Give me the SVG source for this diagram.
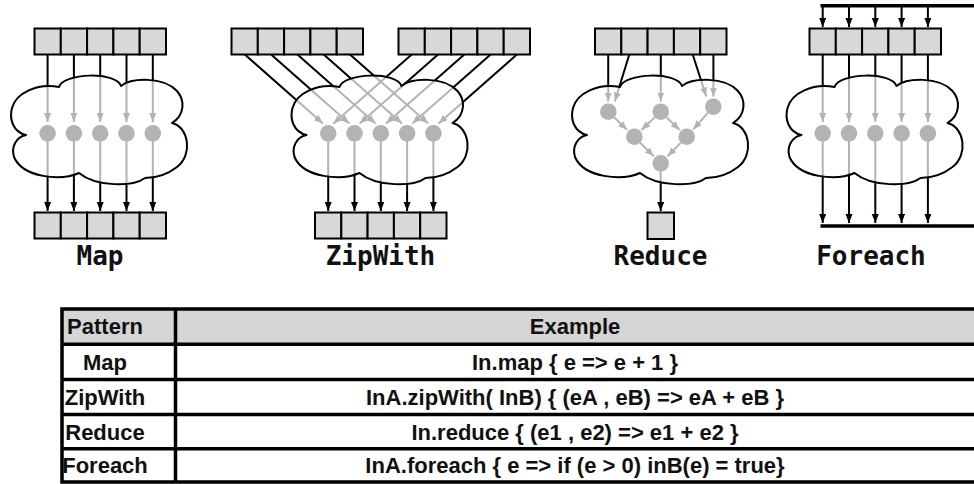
<svg xmlns="http://www.w3.org/2000/svg" xmlns:xlink="http://www.w3.org/1999/xlink" width="974" height="484" viewBox="0 0 974 484">
  <style>
    .cell { fill: #d8d8d8; stroke: #000; stroke-width: 2; }
    .wire { stroke: #000; stroke-width: 2; fill: none; }
    .arr { marker-end: url(#head); }
    .bar { stroke: #000; stroke-width: 3.5; fill: none; }
    .op { fill: #000; }
    .cloud { fill: #fff; fill-opacity: 0.7; stroke: #000; stroke-width: 2; stroke-linejoin: round; }
    .title { font-family: "DejaVu Sans Mono", "Liberation Mono", monospace; font-weight: bold; font-size: 26px; text-anchor: middle; fill: #111; }
    .tcell { font-family: "Liberation Sans", Arial, Helvetica, sans-serif; font-weight: bold; font-size: 22px; text-anchor: middle; fill: #111; }
    .grid { stroke: #000; stroke-width: 3.5; fill: none; }
  </style>
  <defs>
    <marker id="head" markerUnits="userSpaceOnUse" markerWidth="10" markerHeight="8" refX="9" refY="3.5" orient="auto">
      <path d="M0,0 L9,3.5 L0,7 Z" fill="#000"/>
    </marker>
    <!-- cloud outline, 178 x 108, origin at its top-left -->
    <path id="cloud" class="cloud" d="M15,60 C2,57 -2,44 1,33 C5,18 26,8 48,12 C52,-2 105,-4 110,11 C120,3 152,1 166,16 C174,25 174,40 161,48 C178,52 182,80 166,92 C157,99 145,103 134,103 C122,112 85,112 68,98 C50,106 12,103 3,82 C0,72 5,62 15,60 Z"/>
    <g id="row5">
      <rect class="cell" x="0" y="0" width="26.3" height="26"/>
      <rect class="cell" x="26.3" y="0" width="26.3" height="26"/>
      <rect class="cell" x="52.6" y="0" width="26.3" height="26"/>
      <rect class="cell" x="78.9" y="0" width="26.3" height="26"/>
      <rect class="cell" x="105.2" y="0" width="26.3" height="26"/>
    </g>
  </defs>

  <rect width="974" height="484" fill="#fff"/>

  <!-- operation nodes (seen through the cloud) -->
  <g id="map-ops" class="op">
    <circle cx="47.6" cy="133.3" r="8.3"/>
    <circle cx="73.9" cy="133.3" r="8.3"/>
    <circle cx="100.2" cy="133.3" r="8.3"/>
    <circle cx="126.5" cy="133.3" r="8.3"/>
    <circle cx="152.8" cy="133.3" r="8.3"/>
  </g>
  <g id="zipwith-ops" class="op">
    <circle cx="328.2" cy="133.3" r="8.3"/>
    <circle cx="354.5" cy="133.3" r="8.3"/>
    <circle cx="380.8" cy="133.3" r="8.3"/>
    <circle cx="407.1" cy="133.3" r="8.3"/>
    <circle cx="433.4" cy="133.3" r="8.3"/>
  </g>
  <g id="reduce-ops" class="op">
    <circle cx="608.3" cy="111.7" r="8.3"/>
    <circle cx="660.7" cy="111.7" r="8.3"/>
    <circle cx="713.3" cy="106.7" r="8.3"/>
    <circle cx="634.3" cy="136.7" r="8.3"/>
    <circle cx="686.7" cy="136.7" r="8.3"/>
    <circle cx="660.7" cy="163.3" r="8.3"/>
  </g>
  <g id="foreach-ops" class="op">
    <circle cx="822.7" cy="133.3" r="8.3"/>
    <circle cx="849" cy="133.3" r="8.3"/>
    <circle cx="875.3" cy="133.3" r="8.3"/>
    <circle cx="901.6" cy="133.3" r="8.3"/>
    <circle cx="927.9" cy="133.3" r="8.3"/>
  </g>

  <g id="connectors">
    <!-- Map -->
    <g class="wire arr">
      <line x1="47.6" y1="54.5" x2="47.6" y2="122"/>
      <line x1="73.9" y1="54.5" x2="73.9" y2="122"/>
      <line x1="100.2" y1="54.5" x2="100.2" y2="122"/>
      <line x1="126.5" y1="54.5" x2="126.5" y2="122"/>
      <line x1="152.8" y1="54.5" x2="152.8" y2="122"/>
      <line x1="47.6" y1="134" x2="47.6" y2="211"/>
      <line x1="73.9" y1="134" x2="73.9" y2="211"/>
      <line x1="100.2" y1="134" x2="100.2" y2="211"/>
      <line x1="126.5" y1="134" x2="126.5" y2="211"/>
      <line x1="152.8" y1="134" x2="152.8" y2="211"/>
    </g>
    <!-- ZipWith -->
    <g class="wire arr">
      <line x1="244.8" y1="54.5" x2="323" y2="123.5"/>
      <line x1="271.1" y1="54.5" x2="349.3" y2="123.5"/>
      <line x1="297.4" y1="54.5" x2="375.6" y2="123.5"/>
      <line x1="323.7" y1="54.5" x2="401.9" y2="123.5"/>
      <line x1="350" y1="54.5" x2="428.2" y2="123.5"/>
      <line x1="411.7" y1="54.5" x2="333.4" y2="123.5"/>
      <line x1="438" y1="54.5" x2="359.7" y2="123.5"/>
      <line x1="464.3" y1="54.5" x2="386" y2="123.5"/>
      <line x1="490.6" y1="54.5" x2="412.3" y2="123.5"/>
      <line x1="516.9" y1="54.5" x2="438.6" y2="123.5"/>
      <line x1="328.2" y1="134" x2="328.2" y2="211"/>
      <line x1="354.5" y1="134" x2="354.5" y2="211"/>
      <line x1="380.8" y1="134" x2="380.8" y2="211"/>
      <line x1="407.1" y1="134" x2="407.1" y2="211"/>
      <line x1="433.4" y1="134" x2="433.4" y2="211"/>
    </g>
    <!-- Reduce -->
    <g class="wire arr">
      <line x1="608.2" y1="54.5" x2="608.2" y2="101.5"/>
      <line x1="629.3" y1="54.5" x2="614.8" y2="101.5"/>
      <line x1="660.8" y1="54.5" x2="660.8" y2="101.5"/>
      <line x1="692.7" y1="54.5" x2="706.3" y2="96.5"/>
      <line x1="713.4" y1="54.5" x2="713.4" y2="96.5"/>
      <line x1="614.3" y1="117.5" x2="627.2" y2="129.9"/>
      <line x1="654.7" y1="117.4" x2="641.4" y2="130"/>
      <line x1="666.7" y1="117.5" x2="679.6" y2="129.9"/>
      <line x1="707.8" y1="112.9" x2="693.2" y2="129.4"/>
      <line x1="640.1" y1="142.6" x2="653.8" y2="156.3"/>
      <line x1="680.9" y1="142.6" x2="667.6" y2="156.3"/>
      <line x1="660.7" y1="164" x2="660.7" y2="211"/>
    </g>
    <!-- Foreach -->
    <path class="bar" d="M820.5,5.7 H976 M820.5,226 H976"/>
    <g class="wire arr">
      <line x1="822.7" y1="6" x2="822.7" y2="27"/>
      <line x1="849" y1="6" x2="849" y2="27"/>
      <line x1="875.3" y1="6" x2="875.3" y2="27"/>
      <line x1="901.6" y1="6" x2="901.6" y2="27"/>
      <line x1="927.9" y1="6" x2="927.9" y2="27"/>
      <line x1="822.7" y1="54.5" x2="822.7" y2="122"/>
      <line x1="849" y1="54.5" x2="849" y2="122"/>
      <line x1="875.3" y1="54.5" x2="875.3" y2="122"/>
      <line x1="901.6" y1="54.5" x2="901.6" y2="122"/>
      <line x1="927.9" y1="54.5" x2="927.9" y2="122"/>
      <line x1="822.7" y1="134" x2="822.7" y2="223"/>
      <line x1="849" y1="134" x2="849" y2="223"/>
      <line x1="875.3" y1="134" x2="875.3" y2="223"/>
      <line x1="901.6" y1="134" x2="901.6" y2="223"/>
      <line x1="927.9" y1="134" x2="927.9" y2="223"/>
    </g>
  </g>

  <!-- parallel regions -->
  <g id="map-cloud"><use xlink:href="#cloud" transform="translate(11,75)"/></g>
  <g id="zipwith-cloud"><use xlink:href="#cloud" transform="translate(291.5,75)"/></g>
  <g id="reduce-cloud"><use xlink:href="#cloud" transform="translate(572,75)"/></g>
  <g id="foreach-cloud"><use xlink:href="#cloud" transform="translate(786.5,75)"/></g>

  <!-- collections -->
  <g id="map-in"><use xlink:href="#row5" transform="translate(34.5,28.5)"/></g>
  <g id="map-out"><use xlink:href="#row5" transform="translate(34.5,212.5)"/></g>
  <g id="zipwith-in-a"><use xlink:href="#row5" transform="translate(231.5,28.5)"/></g>
  <g id="zipwith-in-b"><use xlink:href="#row5" transform="translate(398.5,28.5)"/></g>
  <g id="zipwith-out"><use xlink:href="#row5" transform="translate(315,212.5)"/></g>
  <g id="reduce-in"><use xlink:href="#row5" transform="translate(595,28.5)"/></g>
  <g id="reduce-out"><rect class="cell" x="647.5" y="212.5" width="26.5" height="26.5"/></g>
  <g id="foreach-in"><use xlink:href="#row5" transform="translate(809.5,28.5)"/></g>

  <!-- pattern names -->
  <g id="titles">
    <text class="title" x="100" y="265">Map</text>
    <text class="title" x="380.5" y="265">ZipWith</text>
    <text class="title" x="660.5" y="265">Reduce</text>
    <text class="title" x="871" y="265">Foreach</text>
  </g>

  <!-- pattern / example table -->
  <g id="table">
    <rect x="62" y="309" width="916" height="35.2" fill="#d5d5d5"/>
    <path class="grid" d="M62,309 H978 M62,344.2 H978 M62,379.4 H978 M62,414.6 H978 M62,448.8 H978 M62,482 H978 M62,307.3 V483.7 M175.5,307.3 V483.7"/>
    <text class="tcell" x="105" y="334.4">Pattern</text>
    <text class="tcell" x="575" y="334.4">Example</text>
    <text class="tcell" x="105" y="369.7">Map</text>
    <text class="tcell" x="575" y="369.7">In.map { e =&gt; e + 1 }</text>
    <text class="tcell" x="105" y="404.9">ZipWith</text>
    <text class="tcell" x="575" y="404.9">InA.zipWith( InB) { (eA , eB) =&gt; eA + eB }</text>
    <text class="tcell" x="105" y="439.6">Reduce</text>
    <text class="tcell" x="575" y="439.6">In.reduce { (e1 , e2) =&gt; e1 + e2 }</text>
    <text class="tcell" x="105" y="473.3">Foreach</text>
    <text class="tcell" x="575" y="473.3">InA.foreach { e =&gt; if (e &gt; 0) inB(e) = true}</text>
  </g>
</svg>
